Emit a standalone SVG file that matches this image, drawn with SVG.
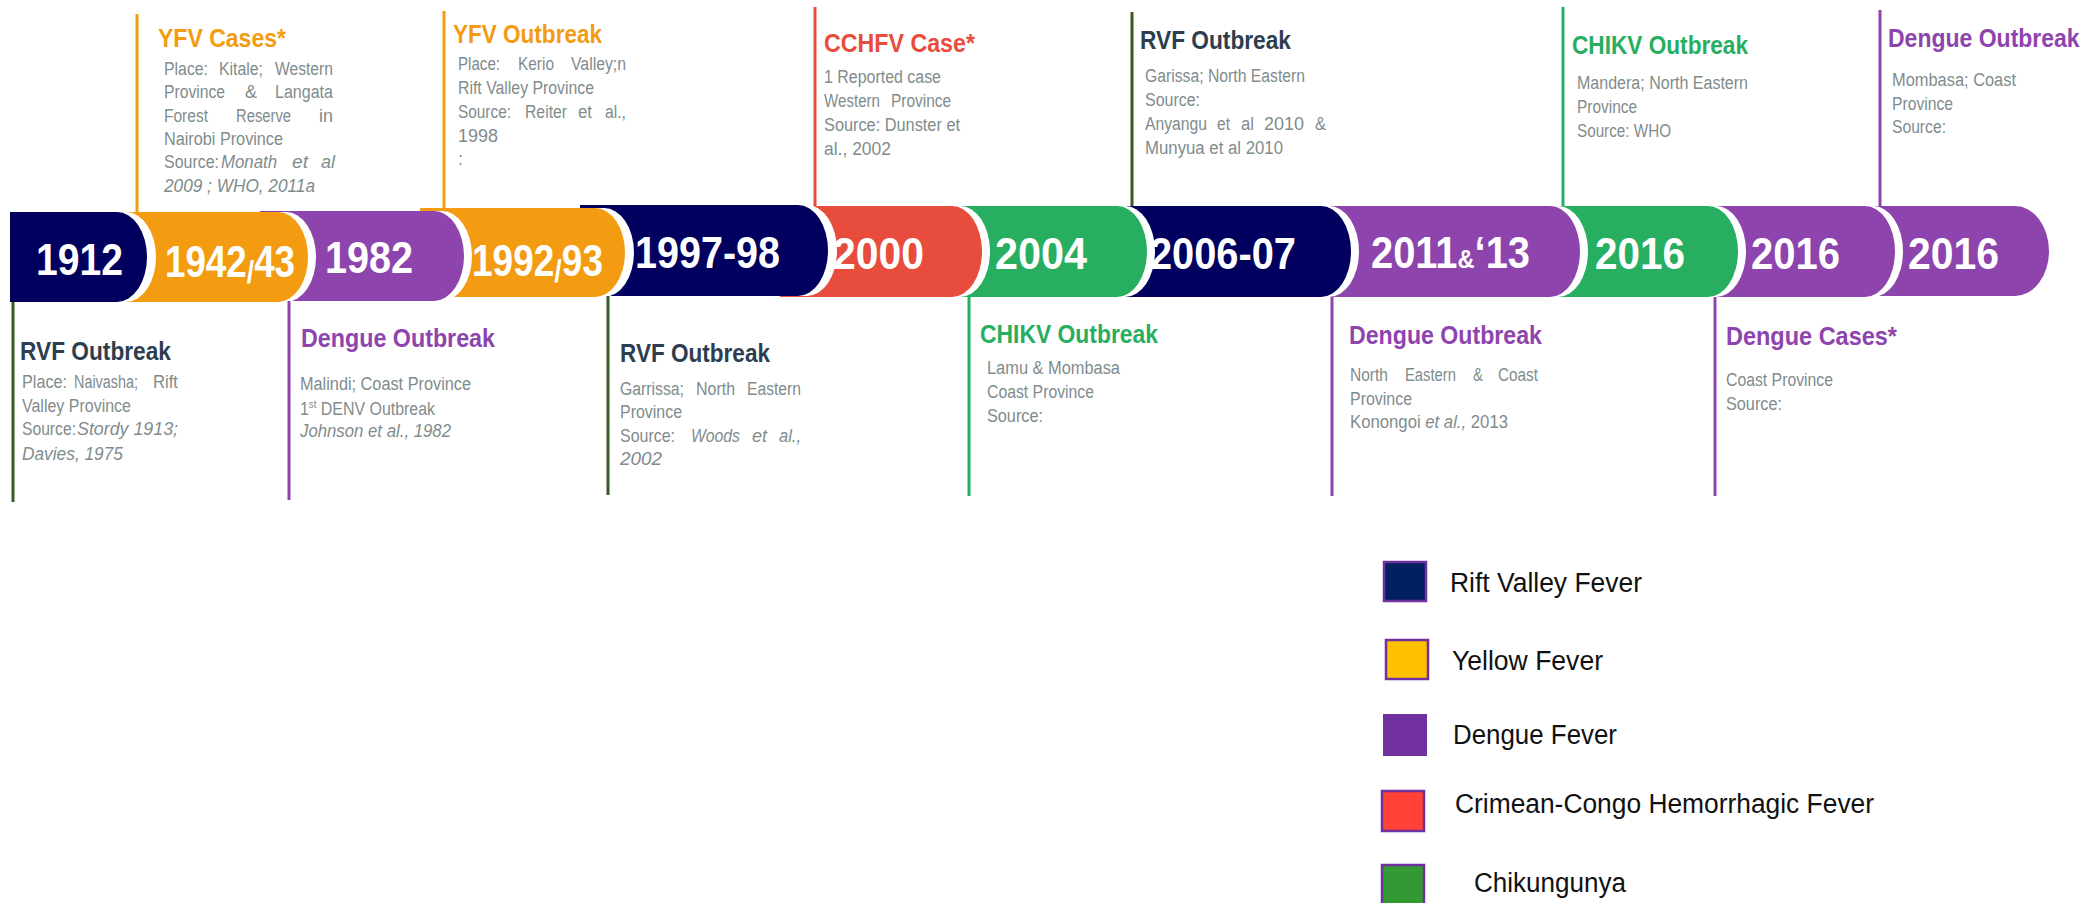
<svg xmlns="http://www.w3.org/2000/svg" xmlns:xlink="http://www.w3.org/1999/xlink" width="2091" height="903" viewBox="0 0 2091 903">
  <style>
    .yr { font-family: "Liberation Sans", Arial, sans-serif; font-weight: bold; font-size: 44px; fill: #ffffff; }
    .ttl { font-family: "Liberation Sans", Arial, sans-serif; font-weight: bold; font-size: 25px; }
    .bd { font-family: "Liberation Sans", Arial, sans-serif; font-size: 18px; fill: #7f8c8d; }
    .it { font-style: italic; }
    .lg { font-family: "Liberation Sans", Arial, sans-serif; font-size: 27px; fill: #111111; }
    .c-rvf { fill: #2c3e50; }
    .c-yfv { fill: #f39c12; }
    .c-den { fill: #8e44ad; }
    .c-cch { fill: #e74c3c; }
    .c-chk { fill: #27ae60; }
    .seg-rvf { fill: #01005f; }
    .seg-yfv { fill: #f39c12; }
    .seg-den { fill: #8e44ad; }
    .seg-cch { fill: #e74c3c; }
    .seg-chk { fill: #27ae60; }
    .rim { fill: #ffffff; }
    .ln { stroke-width: 3; fill: none; }
    .ln-rvf { stroke: #3b5a26; }
    .ln-yfv { stroke: #f39c12; }
    .ln-den { stroke: #8e44ad; }
    .ln-cch { stroke: #e74c3c; }
    .ln-chk { stroke: #27ae60; }
    .key { stroke: #7030a0; stroke-width: 2.5; }
  </style>
  <defs>
    <!-- timeline segments: flat left edge, rounded right end -->
    <path id="p1" d="M10,212 H117 A30,45 0 0 1 147,257 A30,45 0 0 1 117,302 H10 Z"/>
    <path id="p2" d="M100,212 H278 A30,45 0 0 1 308,257 A30,45 0 0 1 278,302 H100 Z"/>
    <path id="p3" d="M260,211 H434 A30,45 0 0 1 464,256 A30,45 0 0 1 434,301 H260 Z"/>
    <path id="p4" d="M420,208 H595 A30,44.5 0 0 1 625,252.5 A30,44.5 0 0 1 595,297 H420 Z"/>
    <path id="p5" d="M580,205 H798 A30,45.5 0 0 1 828,250.5 A30,45.5 0 0 1 798,296 H580 Z"/>
    <path id="p6" d="M780,206 H952 A30,45.5 0 0 1 982,251.5 A30,45.5 0 0 1 952,297 H780 Z"/>
    <path id="p7" d="M940,206 H1117 A30,45.5 0 0 1 1147,251.5 A30,45.5 0 0 1 1117,297 H940 Z"/>
    <path id="p8" d="M1100,206 H1321 A30,45.5 0 0 1 1351,251.5 A30,45.5 0 0 1 1321,297 H1100 Z"/>
    <path id="p9" d="M1300,206 H1550 A30,45.5 0 0 1 1580,251.5 A30,45.5 0 0 1 1550,297 H1300 Z"/>
    <path id="p10" d="M1530,206 H1708 A30,45.5 0 0 1 1738,251.5 A30,45.5 0 0 1 1708,297 H1530 Z"/>
    <path id="p11" d="M1690,206 H1865 A30,45.5 0 0 1 1895,251.5 A30,45.5 0 0 1 1865,297 H1690 Z"/>
    <path id="p12" d="M1850,206 H2015 A34,45 0 0 1 2049,251 A34,45 0 0 1 2015,296 H1850 Z"/>
  </defs>

  <rect width="2091" height="903" fill="#ffffff"/>

  <!-- timeline bar, drawn right to left so each segment overlaps the next -->
  <g id="timeline">
    <g id="seg-2016c">
      <use xlink:href="#p12" class="seg-den"/>
      <text class="yr" x="1908" y="269" textLength="91" lengthAdjust="spacingAndGlyphs">2016</text>
    </g>
    <g id="seg-2016b">
      <use xlink:href="#p11" class="rim" transform="translate(8 0)"/>
      <use xlink:href="#p11" class="seg-den"/>
      <text class="yr" x="1751" y="269" textLength="89" lengthAdjust="spacingAndGlyphs">2016</text>
    </g>
    <g id="seg-2016a">
      <use xlink:href="#p10" class="rim" transform="translate(8 0)"/>
      <use xlink:href="#p10" class="seg-chk"/>
      <text class="yr" x="1595" y="269" textLength="90" lengthAdjust="spacingAndGlyphs">2016</text>
    </g>
    <g id="seg-2011">
      <use xlink:href="#p9" class="rim" transform="translate(8 0)"/>
      <use xlink:href="#p9" class="seg-den"/>
      <text class="yr" x="1371" y="268" textLength="159" lengthAdjust="spacingAndGlyphs">2011<tspan font-size="26">&amp;</tspan>‘13</text>
    </g>
    <g id="seg-2006">
      <use xlink:href="#p8" class="rim" transform="translate(8 0)"/>
      <use xlink:href="#p8" class="seg-rvf"/>
      <text class="yr" x="1150" y="269" textLength="146" lengthAdjust="spacingAndGlyphs">2006-07</text>
    </g>
    <g id="seg-2004">
      <use xlink:href="#p7" class="rim" transform="translate(8 0)"/>
      <use xlink:href="#p7" class="seg-chk"/>
      <text class="yr" x="995" y="269" textLength="92" lengthAdjust="spacingAndGlyphs">2004</text>
    </g>
    <g id="seg-2000">
      <use xlink:href="#p6" class="rim" transform="translate(8 0)"/>
      <use xlink:href="#p6" class="seg-cch"/>
      <text class="yr" x="833" y="269" textLength="91" lengthAdjust="spacingAndGlyphs">2000</text>
    </g>
    <g id="seg-1997">
      <use xlink:href="#p5" class="rim" transform="translate(9 0)"/>
      <use xlink:href="#p5" class="seg-rvf"/>
      <text class="yr" x="635" y="268" textLength="145" lengthAdjust="spacingAndGlyphs">1997-98</text>
    </g>
    <g id="seg-1992">
      <use xlink:href="#p4" class="rim" transform="translate(9 0)"/>
      <use xlink:href="#p4" class="seg-yfv"/>
      <text class="yr" x="472" y="276" textLength="131" lengthAdjust="spacingAndGlyphs">1992<tspan font-size="32" dy="6">/</tspan><tspan dy="-6">93</tspan></text>
    </g>
    <g id="seg-1982">
      <use xlink:href="#p3" class="rim" transform="translate(8 0)"/>
      <use xlink:href="#p3" class="seg-den"/>
      <text class="yr" x="325" y="273" textLength="88" lengthAdjust="spacingAndGlyphs">1982</text>
    </g>
    <g id="seg-1942">
      <use xlink:href="#p2" class="rim" transform="translate(8 0)"/>
      <use xlink:href="#p2" class="seg-yfv"/>
      <text class="yr" x="165" y="277" textLength="130" lengthAdjust="spacingAndGlyphs">1942<tspan font-size="32" dy="6">/</tspan><tspan dy="-6">43</tspan></text>
    </g>
    <g id="seg-1912">
      <use xlink:href="#p1" class="rim" transform="translate(9 0)"/>
      <use xlink:href="#p1" class="seg-rvf"/>
      <text class="yr" x="36" y="275" textLength="87" lengthAdjust="spacingAndGlyphs">1912</text>
    </g>
  </g>

  <!-- leader lines from the bar to each note -->
  <g id="connectors">
    <line class="ln ln-rvf" x1="13" y1="302" x2="13" y2="502"/>
    <line class="ln ln-yfv" x1="137" y1="14" x2="137" y2="212"/>
    <line class="ln ln-den" x1="289" y1="301" x2="289" y2="500"/>
    <line class="ln ln-yfv" x1="444" y1="11" x2="444" y2="208"/>
    <line class="ln ln-rvf" x1="608" y1="296" x2="608" y2="495"/>
    <line class="ln ln-cch" x1="815" y1="7" x2="815" y2="206"/>
    <line class="ln ln-chk" x1="969" y1="297" x2="969" y2="496"/>
    <line class="ln ln-rvf" x1="1132" y1="12" x2="1132" y2="206"/>
    <line class="ln ln-den" x1="1332" y1="297" x2="1332" y2="496"/>
    <line class="ln ln-chk" x1="1563" y1="7" x2="1563" y2="206"/>
    <line class="ln ln-den" x1="1715" y1="297" x2="1715" y2="496"/>
    <line class="ln ln-den" x1="1880" y1="10" x2="1880" y2="206"/>
  </g>

  <!-- notes above the bar -->
  <g id="note-yfv-1942">
    <text class="ttl c-yfv" x="158" y="47" textLength="128" lengthAdjust="spacingAndGlyphs">YFV Cases*</text>
    <text class="bd" x="164" y="75" textLength="44" lengthAdjust="spacingAndGlyphs">Place:</text>
    <text class="bd" x="219" y="75" textLength="44" lengthAdjust="spacingAndGlyphs">Kitale;</text>
    <text class="bd" x="275" y="75" textLength="58" lengthAdjust="spacingAndGlyphs">Western</text>
    <text class="bd" x="164" y="98" textLength="61" lengthAdjust="spacingAndGlyphs">Province</text>
    <text class="bd" x="245" y="98" textLength="12" lengthAdjust="spacingAndGlyphs">&amp;</text>
    <text class="bd" x="275" y="98" textLength="58" lengthAdjust="spacingAndGlyphs">Langata</text>
    <text class="bd" x="164" y="122" textLength="44" lengthAdjust="spacingAndGlyphs">Forest</text>
    <text class="bd" x="236" y="122" textLength="55" lengthAdjust="spacingAndGlyphs">Reserve</text>
    <text class="bd" x="319" y="122" textLength="14" lengthAdjust="spacingAndGlyphs">in</text>
    <text class="bd" x="164" y="145" textLength="119" lengthAdjust="spacingAndGlyphs">Nairobi Province</text>
    <text class="bd" x="164" y="168" textLength="55" lengthAdjust="spacingAndGlyphs">Source:</text>
    <text class="bd it" x="221" y="168" textLength="56" lengthAdjust="spacingAndGlyphs">Monath</text>
    <text class="bd it" x="292" y="168" textLength="16" lengthAdjust="spacingAndGlyphs">et</text>
    <text class="bd it" x="321" y="168" textLength="14" lengthAdjust="spacingAndGlyphs">al</text>
    <text class="bd it" x="164" y="192" textLength="151" lengthAdjust="spacingAndGlyphs">2009 ; WHO, 2011a</text>
  </g>

  <g id="note-yfv-1992">
    <text class="ttl c-yfv" x="453" y="43" textLength="149" lengthAdjust="spacingAndGlyphs">YFV Outbreak</text>
    <text class="bd" x="458" y="70" textLength="42" lengthAdjust="spacingAndGlyphs">Place:</text>
    <text class="bd" x="518" y="70" textLength="36" lengthAdjust="spacingAndGlyphs">Kerio</text>
    <text class="bd" x="571" y="70" textLength="55" lengthAdjust="spacingAndGlyphs">Valley;n</text>
    <text class="bd" x="458" y="94" textLength="136" lengthAdjust="spacingAndGlyphs">Rift Valley Province</text>
    <text class="bd" x="458" y="118" textLength="53" lengthAdjust="spacingAndGlyphs">Source:</text>
    <text class="bd" x="525" y="118" textLength="42" lengthAdjust="spacingAndGlyphs">Reiter</text>
    <text class="bd" x="578" y="118" textLength="14" lengthAdjust="spacingAndGlyphs">et</text>
    <text class="bd" x="605" y="118" textLength="21" lengthAdjust="spacingAndGlyphs">al.,</text>
    <text class="bd" x="458" y="142" textLength="40" lengthAdjust="spacingAndGlyphs">1998</text>
    <text class="bd" x="458" y="165">:</text>
  </g>

  <g id="note-cchf-2000">
    <text class="ttl c-cch" x="824" y="52" textLength="151" lengthAdjust="spacingAndGlyphs">CCHFV Case*</text>
    <text class="bd" x="824" y="83" textLength="117" lengthAdjust="spacingAndGlyphs">1 Reported case</text>
    <text class="bd" x="824" y="107" textLength="56" lengthAdjust="spacingAndGlyphs">Western</text>
    <text class="bd" x="891" y="107" textLength="60" lengthAdjust="spacingAndGlyphs">Province</text>
    <text class="bd" x="824" y="131" textLength="136" lengthAdjust="spacingAndGlyphs">Source: Dunster et</text>
    <text class="bd" x="824" y="155" textLength="67" lengthAdjust="spacingAndGlyphs">al., 2002</text>
  </g>

  <g id="note-rvf-2006">
    <text class="ttl c-rvf" x="1140" y="49" textLength="151" lengthAdjust="spacingAndGlyphs">RVF Outbreak</text>
    <text class="bd" x="1145" y="82" textLength="160" lengthAdjust="spacingAndGlyphs">Garissa; North Eastern</text>
    <text class="bd" x="1145" y="106" textLength="55" lengthAdjust="spacingAndGlyphs">Source:</text>
    <text class="bd" x="1145" y="130" textLength="62" lengthAdjust="spacingAndGlyphs">Anyangu</text>
    <text class="bd" x="1217" y="130" textLength="13" lengthAdjust="spacingAndGlyphs">et</text>
    <text class="bd" x="1241" y="130" textLength="13" lengthAdjust="spacingAndGlyphs">al</text>
    <text class="bd" x="1264" y="130" textLength="40" lengthAdjust="spacingAndGlyphs">2010</text>
    <text class="bd" x="1315" y="130" textLength="11" lengthAdjust="spacingAndGlyphs">&amp;</text>
    <text class="bd" x="1145" y="154" textLength="138" lengthAdjust="spacingAndGlyphs">Munyua et al 2010</text>
  </g>

  <g id="note-chik-2016">
    <text class="ttl c-chk" x="1572" y="54" textLength="176" lengthAdjust="spacingAndGlyphs">CHIKV Outbreak</text>
    <text class="bd" x="1577" y="89" textLength="171" lengthAdjust="spacingAndGlyphs">Mandera; North Eastern</text>
    <text class="bd" x="1577" y="113" textLength="60" lengthAdjust="spacingAndGlyphs">Province</text>
    <text class="bd" x="1577" y="137" textLength="94" lengthAdjust="spacingAndGlyphs">Source: WHO</text>
  </g>

  <g id="note-den-2016b">
    <!-- heading narrowed with a horizontal scale so it stays inside the right edge -->
    <text class="ttl c-den" transform="translate(1888 47) scale(0.92 1)" x="0" y="0">Dengue Outbreak</text>
    <text class="bd" x="1892" y="86" textLength="124" lengthAdjust="spacingAndGlyphs">Mombasa; Coast</text>
    <text class="bd" x="1892" y="110" textLength="61" lengthAdjust="spacingAndGlyphs">Province</text>
    <text class="bd" x="1892" y="133" textLength="54" lengthAdjust="spacingAndGlyphs">Source:</text>
  </g>

  <!-- notes below the bar -->
  <g id="note-rvf-1912">
    <text class="ttl c-rvf" x="20" y="360" textLength="151" lengthAdjust="spacingAndGlyphs">RVF Outbreak</text>
    <text class="bd" x="22" y="388" textLength="45" lengthAdjust="spacingAndGlyphs">Place:</text>
    <text class="bd" x="74" y="388" textLength="64" lengthAdjust="spacingAndGlyphs">Naivasha;</text>
    <text class="bd" x="153" y="388" textLength="25" lengthAdjust="spacingAndGlyphs">Rift</text>
    <text class="bd" x="22" y="412" textLength="109" lengthAdjust="spacingAndGlyphs">Valley Province</text>
    <text class="bd" x="22" y="435" textLength="54" lengthAdjust="spacingAndGlyphs">Source:</text>
    <text class="bd it" x="77" y="435" textLength="101" lengthAdjust="spacingAndGlyphs">Stordy 1913;</text>
    <text class="bd it" x="22" y="460" textLength="101" lengthAdjust="spacingAndGlyphs">Davies, 1975</text>
  </g>

  <g id="note-den-1982">
    <text class="ttl c-den" x="301" y="347" textLength="194" lengthAdjust="spacingAndGlyphs">Dengue Outbreak</text>
    <text class="bd" x="300" y="390" textLength="171" lengthAdjust="spacingAndGlyphs">Malindi; Coast Province</text>
    <text class="bd" x="300" y="415" textLength="135" lengthAdjust="spacingAndGlyphs">1<tspan font-size="11" dy="-7">st</tspan><tspan dy="7"> DENV Outbreak</tspan></text>
    <text class="bd it" x="300" y="437" textLength="151" lengthAdjust="spacingAndGlyphs">Johnson et al., 1982</text>
  </g>

  <g id="note-rvf-1997">
    <text class="ttl c-rvf" x="620" y="362" textLength="150" lengthAdjust="spacingAndGlyphs">RVF Outbreak</text>
    <text class="bd" x="620" y="395" textLength="64" lengthAdjust="spacingAndGlyphs">Garrissa;</text>
    <text class="bd" x="696" y="395" textLength="39" lengthAdjust="spacingAndGlyphs">North</text>
    <text class="bd" x="747" y="395" textLength="54" lengthAdjust="spacingAndGlyphs">Eastern</text>
    <text class="bd" x="620" y="418" textLength="62" lengthAdjust="spacingAndGlyphs">Province</text>
    <text class="bd" x="620" y="442" textLength="55" lengthAdjust="spacingAndGlyphs">Source:</text>
    <text class="bd it" x="691" y="442" textLength="49" lengthAdjust="spacingAndGlyphs">Woods</text>
    <text class="bd it" x="752" y="442" textLength="15" lengthAdjust="spacingAndGlyphs">et</text>
    <text class="bd it" x="779" y="442" textLength="22" lengthAdjust="spacingAndGlyphs">al.,</text>
    <text class="bd it" x="620" y="465" textLength="42" lengthAdjust="spacingAndGlyphs">2002</text>
  </g>

  <g id="note-chik-2004">
    <text class="ttl c-chk" x="980" y="343" textLength="178" lengthAdjust="spacingAndGlyphs">CHIKV Outbreak</text>
    <text class="bd" x="987" y="374" textLength="133" lengthAdjust="spacingAndGlyphs">Lamu &amp; Mombasa</text>
    <text class="bd" x="987" y="398" textLength="107" lengthAdjust="spacingAndGlyphs">Coast Province</text>
    <text class="bd" x="987" y="422" textLength="56" lengthAdjust="spacingAndGlyphs">Source:</text>
  </g>

  <g id="note-den-2011">
    <text class="ttl c-den" x="1349" y="344" textLength="193" lengthAdjust="spacingAndGlyphs">Dengue Outbreak</text>
    <text class="bd" x="1350" y="381" textLength="38" lengthAdjust="spacingAndGlyphs">North</text>
    <text class="bd" x="1405" y="381" textLength="51" lengthAdjust="spacingAndGlyphs">Eastern</text>
    <text class="bd" x="1473" y="381" textLength="10" lengthAdjust="spacingAndGlyphs">&amp;</text>
    <text class="bd" x="1498" y="381" textLength="40" lengthAdjust="spacingAndGlyphs">Coast</text>
    <text class="bd" x="1350" y="405" textLength="62" lengthAdjust="spacingAndGlyphs">Province</text>
    <text class="bd" x="1350" y="428" textLength="158" lengthAdjust="spacingAndGlyphs">Konongoi <tspan class="it">et al.,</tspan> 2013</text>
  </g>

  <g id="note-den-2016a">
    <text class="ttl c-den" x="1726" y="345" textLength="171" lengthAdjust="spacingAndGlyphs">Dengue Cases*</text>
    <text class="bd" x="1726" y="386" textLength="107" lengthAdjust="spacingAndGlyphs">Coast Province</text>
    <text class="bd" x="1726" y="410" textLength="56" lengthAdjust="spacingAndGlyphs">Source:</text>
  </g>

  <!-- colour key -->
  <g id="legend">
    <rect class="key" x="1384" y="562" width="42" height="39" fill="#002060"/>
    <text class="lg" x="1450" y="592" textLength="192" lengthAdjust="spacingAndGlyphs">Rift Valley Fever</text>
    <rect class="key" x="1386" y="640" width="42" height="39" fill="#ffc000"/>
    <text class="lg" x="1452" y="670" textLength="151" lengthAdjust="spacingAndGlyphs">Yellow Fever</text>
    <rect x="1383" y="714" width="44" height="42" fill="#7030a0"/>
    <text class="lg" x="1453" y="744" textLength="164" lengthAdjust="spacingAndGlyphs">Dengue Fever</text>
    <rect class="key" x="1382" y="791" width="42" height="40" fill="#ff4136"/>
    <text class="lg" x="1455" y="813" textLength="419" lengthAdjust="spacingAndGlyphs">Crimean-Congo Hemorrhagic Fever</text>
    <rect class="key" x="1382" y="865" width="42" height="42" fill="#339933"/>
    <text class="lg" x="1474" y="892" textLength="152" lengthAdjust="spacingAndGlyphs">Chikungunya</text>
  </g>
</svg>
